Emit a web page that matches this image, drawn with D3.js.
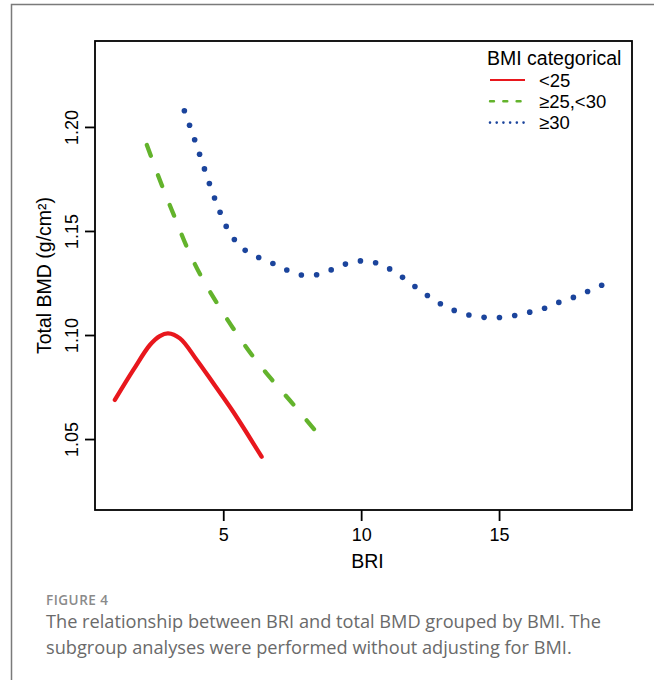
<!DOCTYPE html>
<html>
<head>
<meta charset="utf-8">
<script src="https://cdn.jsdelivr.net/npm/d3@7"></script>
<style>
  body { margin: 0; background: #fff; }
  svg { display: block; }
</style>
</head>
<body>
<div id="chart-container"></div>
<script>
// values (BRI on x, total BMD on y)
const redBRI = [1.07, 1.74, 2.34, 2.70, 3.00, 3.43, 4.04, 4.64, 5.36, 6.39];
const redBMD = [1.0688, 1.0832, 1.0952, 1.0995, 1.1008, 1.0984, 1.0880, 1.0768, 1.0631, 1.0415];

const greenBRI = [2.23, 2.81, 3.25, 3.68, 4.19, 4.77, 5.35, 6.04, 6.77, 7.53, 8.29];
const greenBMD = [1.1913, 1.1707, 1.1563, 1.1423, 1.1284, 1.1154, 1.1034, 1.0904, 1.0784, 1.0668, 1.0548];

const blueBRI = [3.59, 3.97, 4.34, 4.72, 5.17, 5.50, 5.91, 6.44, 6.95, 7.47, 8.03, 8.58, 9.11, 9.66,
  10.22, 10.78, 11.27, 11.75, 12.22, 12.69, 13.20, 13.74, 14.31, 14.89, 15.46, 16.02, 16.59,
  17.11, 17.66, 18.19, 18.72];
const blueBMD = [1.2078, 1.1936, 1.1790, 1.1646, 1.1506, 1.1444, 1.1396, 1.1364, 1.1335, 1.1303,
  1.1285, 1.1296, 1.1324, 1.1350, 1.1356, 1.1335, 1.1298, 1.1253, 1.1207, 1.1165, 1.1128,
  1.1102, 1.1087, 1.1083, 1.1091, 1.1107, 1.1126, 1.1154, 1.1179, 1.1208, 1.1239];

const xTicks = [5, 10, 15];
const yTicks = [1.05, 1.10, 1.15, 1.20];
const legendTitle = "BMI categorical";
const groupNames = ["<25", "\u226525,<30", "\u226530"];

// layout
const W = 654, H = 680;
const box = { left: 95, top: 41, right: 632, bottom: 510 };

const x = d3.scaleLinear().domain([0.35, 19.82]).range([box.left, box.right]);
const y = d3.scaleLinear().domain([1.0159, 1.2413]).range([box.bottom, box.top]);

const svg = d3.select("#chart-container")
  .append("svg")
    .attr("width", W)
    .attr("height", H);

// outer card frame (left + top)
svg.append("path")
  .attr("d", `M11.5,${H} L11.5,4.5 L${W},4.5`)
  .attr("fill", "none")
  .attr("stroke", "#7a7a7a")
  .attr("stroke-width", 1.5);

const font = "'Liberation Sans', Arial, sans-serif";

// x axis
const xAxis = svg.append("g")
  .attr("transform", `translate(0, ${box.bottom})`)
  .call(d3.axisBottom(x).tickValues(xTicks).tickSize(11).tickPadding(7).tickFormat(d3.format("d")));
xAxis.select(".domain").remove();
xAxis.selectAll("line").attr("stroke", "#000").attr("stroke-width", 1.8);
xAxis.selectAll("text")
  .attr("font-family", font)
  .attr("font-size", 18)
  .attr("fill", "#000");

// y axis
const yAxis = svg.append("g")
  .attr("transform", `translate(${box.left}, 0)`)
  .call(d3.axisLeft(y).tickValues(yTicks).tickSize(10).tickFormat(d3.format(".2f")));
yAxis.select(".domain").remove();
yAxis.selectAll("line").attr("stroke", "#000").attr("stroke-width", 1.8);
yAxis.selectAll("text")
  .attr("font-family", font)
  .attr("font-size", 18)
  .attr("fill", "#000")
  .attr("x", null).attr("dy", null)
  .attr("text-anchor", "middle")
  .attr("transform", "translate(-17, 0) rotate(-90)");

// plot box
svg.append("rect")
  .attr("x", box.left).attr("y", box.top)
  .attr("width", box.right - box.left)
  .attr("height", box.bottom - box.top)
  .attr("fill", "none")
  .attr("stroke", "#000")
  .attr("stroke-width", 1.8);

// axis titles
svg.append("text")
  .attr("x", (box.left + box.right) / 2 + 4)
  .attr("y", 568)
  .attr("text-anchor", "middle")
  .attr("font-family", font)
  .attr("font-size", 19.5)
  .text("BRI");

svg.append("text")
  .attr("transform", `translate(51, ${(box.top + box.bottom) / 2}) rotate(-90)`)
  .attr("text-anchor", "middle")
  .attr("font-family", font)
  .attr("font-size", 19.5)
  .text("Total BMD (g/cm\u00b2)");

// curves
const line = d3.line()
  .x(d => x(d[0]))
  .y(d => y(d[1]))
  .curve(d3.curveCatmullRom);

const series = [
  { pts: d3.zip(redBRI, redBMD), color: "#e8171d", width: 4.3, dash: null, period: 0 },
  { pts: d3.zip(greenBRI, greenBMD), color: "#63b32c", width: 4.3, dash: 11.5, period: 31 },
  { pts: d3.zip(blueBRI, blueBMD), color: "#1b449c", width: 5.6, dash: 0, period: 15.4 }
];

series.forEach(s => {
  const p = svg.append("path")
    .datum(s.pts)
    .attr("fill", "none")
    .attr("stroke", s.color)
    .attr("stroke-width", s.width)
    .attr("stroke-linecap", "round")
    .attr("d", line);
  if (s.period) {
    // stretch the pattern a touch so a dash/dot sits on both ends
    const node = p.node();
    const len = node.getTotalLength();
    const n = Math.round((len - s.dash) / s.period);
    const per = (len - s.dash) / n;
    if (s.dash) {
      p.attr("stroke-dasharray", `${s.dash},${per - s.dash}`);
    } else {
      // dotted line: dots sampled along the curve
      p.attr("stroke", "none");
      const dots = d3.range(n + 1).map(i => node.getPointAtLength(Math.min(i * per, len)));
      svg.append("g").selectAll("circle")
        .data(dots)
        .join("circle")
          .attr("cx", d => d.x)
          .attr("cy", d => d.y)
          .attr("r", s.width / 2)
          .attr("fill", s.color);
    }
  }
});

// legend
const legend = svg.append("g");
legend.append("text")
  .attr("x", 487).attr("y", 65)
  .attr("font-family", font)
  .attr("font-size", 19.5)
  .text(legendTitle);

const legendDash = [null, "4,9.3", "0.01,6.7"];
const legendWidth = [2.2, 2.4, 2.6];
groupNames.forEach((name, i) => {
  const yy = 80 + i * 21.3;
  legend.append("line")
    .attr("x1", 490).attr("x2", 525)
    .attr("y1", yy).attr("y2", yy)
    .attr("stroke", series[i].color)
    .attr("stroke-width", legendWidth[i])
    .attr("stroke-linecap", i === 0 ? "butt" : "round")
    .attr("stroke-dasharray", legendDash[i]);
  legend.append("text")
    .attr("x", 539).attr("y", yy + 6.5)
    .attr("font-family", font)
    .attr("font-size", 18.5)
    .text(name);
});

// caption
const capFont = "'Open Sans', 'Noto Sans', sans-serif";
svg.append("text")
  .attr("x", 46).attr("y", 605)
  .attr("font-family", capFont)
  .attr("font-size", 13.5)
  .attr("font-weight", 600)
  .attr("letter-spacing", 0.5)
  .attr("fill", "#8a8a8a")
  .text("FIGURE 4");

const captionLines = [
  "The relationship between BRI and total BMD grouped by BMI. The",
  "subgroup analyses were performed without adjusting for BMI."
];
captionLines.forEach((t, i) => {
  svg.append("text")
    .attr("x", 46).attr("y", 628 + i * 26)
    .attr("font-family", capFont)
    .attr("font-size", 18.2)
    .attr("fill", "#6a6a6a")
    .text(t);
});
</script>
</body>
</html>
